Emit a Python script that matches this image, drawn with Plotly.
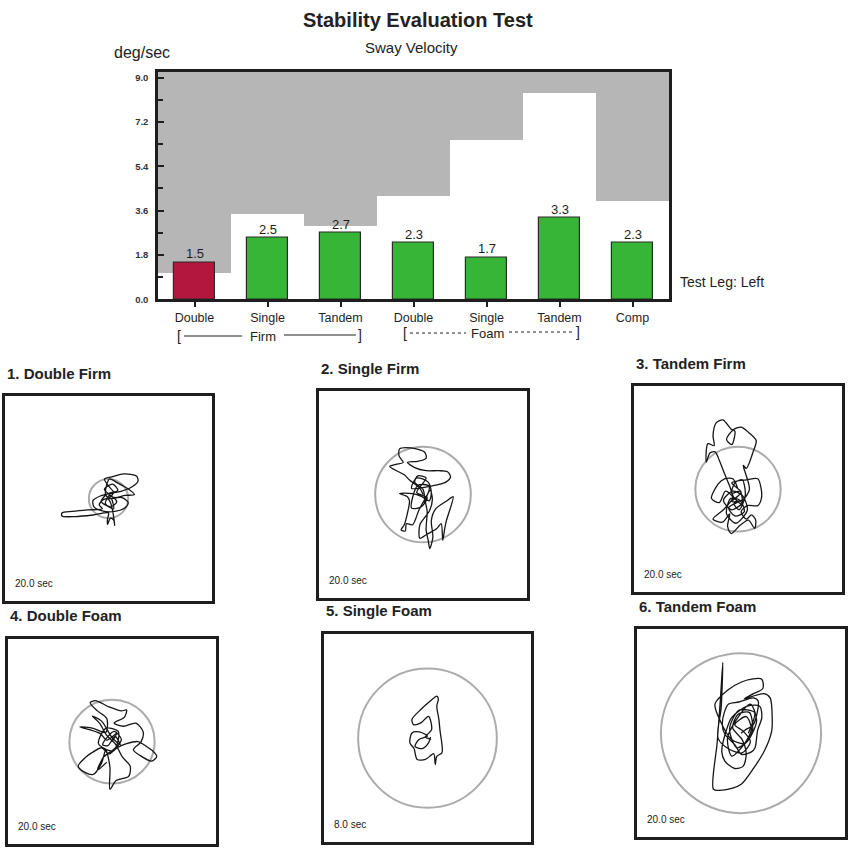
import plotly.graph_objects as go

W, H = 853, 851

# ---- Sway velocity summary -------------------------------------------------
categories = ["Double", "Single", "Tandem", "Double", "Single", "Tandem", "Comp"]
sway_velocity = [1.5, 2.5, 2.7, 2.3, 1.7, 3.3, 2.3]
norm_limit = [1.1, 3.5, 3.0, 4.2, 6.5, 8.4, 4.0]
bar_colors = ["#b3173d", "#36b536", "#36b536", "#36b536", "#36b536", "#36b536", "#36b536"]
y_ticks = [0.0, 1.8, 3.6, 5.4, 7.2, 9.0]
y_top = 9.25

# ---- Stabilogram panels ----------------------------------------------------
panel_titles = ["1. Double Firm", "2. Single Firm", "3. Tandem Firm",
                "4. Double Foam", "5. Single Foam", "6. Tandem Foam"]
panel_durations = ["20.0 sec", "20.0 sec", "20.0 sec", "20.0 sec", "8.0 sec", "20.0 sec"]
limit_radius = [1.9, 4.6, 4.1, 4.1, 6.7, 7.7]

path_double_firm = [
    (0.0, 0.0), (0.5, 0.6), (0.1, 1.1), (-0.4, 1.9), (0.3, 2.1), (1.5, 2.4), (2.7, 2.2),
    (2.85, 1.7), (2.2, 1.1), (1.2, 0.7), (0.2, 0.5), (-0.8, 0.25), (-1.5, -0.2), (-1.4, -0.8),
    (-0.6, -1.2), (0.6, -1.25), (1.6, -0.9), (1.9, -0.4), (1.3, 0.1), (0.3, 0.0), (-0.5, -0.1),
    (-0.9, -0.6), (-0.6, -1.0), (-2.0, -1.1), (-3.5, -1.25), (-4.5, -1.4), (-4.5, -1.7),
    (-3.2, -1.75), (-1.5, -1.6), (0.0, -1.4), (-0.1, -2.0), (-0.1, -2.5), (0.2, -1.9),
    (0.5, -2.1), (0.6, -2.6), (0.5, -1.8), (0.4, -1.2), (0.2, -0.4), (-0.3, 0.5), (0.1, 1.9),
    (0.9, 1.5), (1.8, 1.0), (2.5, 0.4), (1.6, 0.3), (0.6, 0.1), (0.0, 0.3),
    (0.3, 0.2), (-0.4, 0.9), (0.4, 1.4), (0.9, 0.8), (-0.2, 0.4), (-0.7, -0.3), (0.2, -0.8),
    (0.8, -0.3), (0.1, 0.3), (-0.3, -0.5), (0.5, -1.0), (0.3, 0.0),
]
path_single_firm = [
    (0, 0), (-0.3, 0.6), (-1.3, 1.4), (-1.8, 1.9), (-3.2, 2.7), (-2.6, 2.9), (-1.9, 3.1),
    (-2.3, 3.7), (-2.25, 4.4), (-1.2, 4.5), (0.15, 4.1), (0.3, 3.5), (-0.5, 3.2), (-1.5, 3.1),
    (-0.8, 2.6), (0.3, 2.3), (1.5, 2.3), (2.35, 2.2), (2.65, 1.7), (2.2, 1.2), (1.2, 0.9),
    (0.1, 0.7), (-1.1, 0.6), (-0.6, 1.6), (0.5, 1.2), (0.8, 0.2), (0.6, -0.6), (-0.1, -0.2),
    (-1.0, 0.1), (-2.25, 0.1), (-1.5, -0.2), (-1.3, -0.6), (-1.5, -1.8), (-1.8, -2.9),
    (-2.1, -3.4), (-1.7, -3.5), (-1.6, -2.8), (-1.0, -2.9), (-0.4, -1.5), (0.2, -0.4),
    (0.7, 0.4), (0.9, -0.5), (0.6, -1.6), (-0.3, -2.9), (-0.3, -4.2), (0.4, -3.8), (1.3, -3.3),
    (1.75, -2.8), (1.9, -4.4), (2.1, -3.2), (2.25, -2.5), (2.9, -0.2), (2.3, -0.6), (1.2, -1.4),
    (0.8, -2.5), (0.95, -4.1), (0.65, -5.2), (0.5, -4.4), (0.3, -3.4), (0.4, -1.6), (0.2, -0.6),
    (0.0, 0.5), (-0.8, 1.2), (-0.5, 1.8), (0.3, 1.6),
    (-0.6, 0.2), (0.4, -0.3), (-0.2, -1.2), (-1.1, -1.3), (-0.5, 0.9), (0.6, 0.8), (0.1, -0.8),
]
path_tandem_firm = [
    (0, 0), (-0.5, 1.0), (-1.3, 1.0), (-1.9, 0.5), (-2.55, -0.9), (-1.8, -1.3), (-1.2, -0.2),
    (-0.5, -0.8), (-1.4, -2.0), (-2.4, -2.9), (-1.5, -3.2), (-0.8, -2.4), (-1.0, -3.6),
    (-0.65, -4.3), (0.2, -3.5), (1.0, -3.0), (1.6, -3.8), (1.7, -3.0), (1.3, -2.5), (0.8, -2.9),
    (0.3, -2.2), (0.9, -1.6), (1.9, -1.6), (2.25, -0.9), (2.2, 0.2), (1.9, 1.0), (0.8, 0.9),
    (-0.6, 0.6), (0.3, -0.3), (-0.6, -1.2), (0.5, -1.0), (1.1, 0.0), (0.5, 2.3), (0.8, 2.0),
    (1.45, 3.6), (1.75, 4.7), (1.0, 5.5), (0.3, 6.0), (-0.5, 5.7), (-1.1, 4.8), (-0.6, 4.3),
    (-0.3, 5.6), (-0.65, 5.8), (-1.45, 6.7), (-2.1, 6.4), (-2.4, 5.2), (-2.3, 4.2),
    (-2.9, 4.4), (-3.05, 2.6), (-2.7, 3.5), (-2.2, 3.6), (-1.8, 2.8), (-1.3, 1.5), (-0.8, 0.3),
    (-0.4, -0.8), (0.4, -1.5), (0.2, -0.2), (-0.6, -0.4), (-0.3, 0.6), (0.4, 0.9), (0.7, -0.6),
    (0.1, -2.0), (-0.4, -1.4),
    (0.1, -1.2), (-0.9, -1.8), (-0.3, -2.6), (0.6, -2.2), (0.2, -1.1), (-0.7, -0.9),
    (-1.1, -2.4), (-0.2, -3.3), (0.9, -2.0), (0.4, -0.6), (-0.5, -0.2), (-1.4, -1.1),
    (-0.6, -2.0), (0.3, -1.5),
]
path_double_foam = [
    (0, 0), (0.45, 0.8), (-0.5, 0.15), (-1.15, 0.8), (-3.1, 1.45), (-1.8, 1.3), (-0.6, 0.9),
    (-0.5, 2.25), (-1.4, 3.0), (-2.1, 3.8), (-1.6, 4.0), (-0.3, 3.4), (0.9, 3.0), (1.4, 3.1),
    (1.2, 2.4), (0.2, 1.8), (1.1, 1.5), (2.3, 1.8), (3.0, 0.95), (2.8, 0.0), (2.05, -0.8),
    (2.7, -1.35), (3.8, -1.9), (4.3, -1.45), (3.9, -0.9), (3.35, -0.5), (2.5, 0.0), (1.4, -0.2),
    (0.5, -0.6), (-0.3, -1.2), (-1.0, -0.6), (-1.8, -1.0), (-2.45, -1.45), (-3.25, -2.4),
    (-2.6, -3.0), (-1.8, -3.2), (-1.0, -2.1), (-0.6, -0.8), (-0.2, -2.5), (-0.2, -4.65),
    (0.4, -3.8), (1.6, -3.4), (1.75, -2.4), (1.0, -1.5), (0.3, -0.2), (-0.5, 0.6), (-1.2, 1.8),
    (-1.9, 2.5), (-1.0, 2.0), (0.0, 0.4), (0.8, -0.3), (0.3, 0.5), (-0.4, -0.4),
    (-0.9, -0.3), (0.2, 1.0), (0.9, 0.2), (0.0, -0.9), (-1.3, -0.2), (-0.6, 1.3), (0.6, 1.0),
    (0.4, -0.5), (-0.8, -1.5), (-1.4, -2.8), (-0.5, -2.0),
]
path_single_foam = [
    (0, 0), (0.3, -0.1), (-0.2, 0.1), (0.4, 0.85), (0.1, 2.1), (-0.6, 1.5), (-1.35, 1.3),
    (-1.5, 1.8), (-0.6, 2.8), (0.3, 3.6), (0.9, 4.05), (1.05, 3.75), (0.9, 3.1), (1.1, 1.8),
    (1.2, 0.8), (1.4, -1.4), (0.9, -1.75), (0.75, -2.55), (0.6, -1.5), (-0.2, -2.05),
    (-1.0, -2.05), (-1.3, -1.0), (-1.7, -0.45), (-1.5, 0.5), (-0.8, 0.6), (0.0, 0.2),
    (-0.85, -0.15), (-1.2, -0.8), (-0.5, -1.0), (0.1, -0.45), (0.3, 0.1),
]
path_tandem_foam = [
    (0, 0), (0.4, 0.3), (1.2, 0.85), (1.65, 3.1), (1.2, 3.4), (-0.2, 3.0), (-1.2, 2.8),
    (-1.6, 2.0), (-1.8, 0.8), (-1.55, -0.1), (-0.6, -1.1), (0.05, -2.05), (1.0, -1.8),
    (1.35, -1.4), (1.6, 0.3), (2.0, 1.5), (1.8, 2.6), (0.6, 2.6), (-0.9, 1.5), (-1.4, 0.3),
    (-1.85, -1.75), (-1.55, -2.7), (-0.6, -3.4), (0.2, -3.2), (0.5, -2.0), (0.1, -0.6),
    (-0.8, 0.5), (-0.3, 1.8), (0.8, 2.0), (1.1, 0.2), (0.3, -1.0), (-0.9, -0.6), (-2.0, 1.2),
    (-2.5, 2.8), (-1.2, 4.2), (0.0, 4.9), (1.0, 5.2), (2.0, 5.2), (2.1, 4.3), (1.2, 3.8),
    (0.3, 3.3), (2.2, 3.8), (2.8, 3.4), (3.0, 1.5), (2.95, 0.2), (2.3, -1.6), (1.2, -3.4),
    (0.05, -4.9), (-0.8, -5.3), (-2.0, -5.5), (-2.65, -5.4), (-2.3, -1.0), (-2.0, 3.0),
    (-1.75, 6.8), (-1.9, 2.5), (-2.2, -0.5), (-1.2, -1.5), (0.1, -1.9), (0.9, -0.8), (0.2, 0.2),
    (-0.6, 0.8), (0.5, 1.6), (1.0, 0.4), (0.2, -1.2), (-0.9, -2.2), (-1.3, -0.5), (-0.5, 1.2),
    (0.9, 2.8), (1.5, 1.2), (0.6, -0.8), (-0.4, -1.4), (-1.1, 0.4), (-0.2, 2.2), (1.3, 2.0),
    (0.7, 0.0),
]
sway_paths = [path_double_firm, path_single_firm, path_tandem_firm,
              path_double_foam, path_single_foam, path_tandem_foam]

# panel frames in page pixels: left, top, right, bottom
panel_boxes = [(5, 398, 212, 605), (319, 393, 527, 602), (634, 388, 842, 596),
               (8, 643, 216, 849), (324, 638, 531, 847), (637, 633, 845, 842)]

FONT = "Liberation Sans"
INK = "#1e1e1e"


def px_x(px):
    return px / W


def px_y(py):
    return 1 - py / H


fig = go.Figure()
idx = list(range(len(categories)))

# grey zone above the normative limits
fig.add_trace(go.Bar(
    x=idx, y=[y_top - v for v in norm_limit], base=norm_limit, width=1.0,
    marker=dict(color="#b6b6b6", line=dict(width=0)), hoverinfo="skip",
    xaxis="x", yaxis="y", showlegend=False,
))
# measured sway velocity
fig.add_trace(go.Bar(
    x=idx, y=sway_velocity, width=0.575,
    marker=dict(color=bar_colors, line=dict(color="#2a2a2a", width=1.2)),
    xaxis="x", yaxis="y", showlegend=False,
))

layout = dict(
    width=W, height=H, margin=dict(l=0, r=0, t=0, b=0),
    paper_bgcolor="white", plot_bgcolor="white",
    barmode="overlay", bargap=0, showlegend=False,
    font=dict(family=FONT, color=INK),
    xaxis=dict(
        domain=[px_x(158), px_x(669)], range=[-0.5, 6.5], anchor="y",
        tickvals=idx, ticktext=categories, ticks="outside", ticklen=5, tickwidth=1.5,
        tickcolor=INK, tickfont=dict(family=FONT, size=12.5, color=INK),
        showline=True, mirror=True, linewidth=2.5, linecolor=INK, showgrid=False,
        zeroline=False, fixedrange=True,
    ),
    yaxis=dict(
        domain=[px_y(301), px_y(72)], range=[0, y_top], anchor="x",
        tickvals=y_ticks, ticktext=[f"<b>{v:.1f}</b>" for v in y_ticks],
        ticks="inside", ticklen=6, tickwidth=1.5, tickcolor=INK, ticklabelstandoff=5,
        minor=dict(dtick=0.9, tick0=0, ticks="inside", ticklen=5, tickwidth=1.5, tickcolor=INK),
        tickfont=dict(family=FONT, size=9.5, color="#333"),
        showline=True, mirror=True, linewidth=2.5, linecolor=INK, showgrid=False,
        zeroline=False, fixedrange=True,
    ),
)

# value labels sitting on top of each bar
annotations = [
    dict(text=f"{v:.1f}", x=i, y=v, xref="x", yref="y", yanchor="bottom", yshift=-1,
         font=dict(size=13, color=INK))
    for i, v in zip(idx, sway_velocity)
]
annotations += [
    dict(text="<b>Stability Evaluation Test</b>", x=px_x(418), y=px_y(20),
         font=dict(size=20, color="#222")),
    dict(text="Sway Velocity", x=px_x(411), y=px_y(48), font=dict(size=15, color="#222")),
    dict(text="deg/sec", x=px_x(142), y=px_y(53), font=dict(size=16, color="#222")),
    dict(text="Test Leg: Left", x=px_x(678), y=px_y(284), xanchor="left",
         font=dict(size=14, color="#222")),
    dict(text="Firm", x=px_x(263), y=px_y(338), font=dict(size=13, color="#222")),
    dict(text="Foam", x=px_x(487), y=px_y(335), font=dict(size=13, color="#222")),
    dict(text="[", x=px_x(179), y=px_y(338), font=dict(size=14, color="#222")),
    dict(text="]", x=px_x(360), y=px_y(337), font=dict(size=14, color="#222")),
    dict(text="[", x=px_x(405), y=px_y(335), font=dict(size=14, color="#222")),
    dict(text="]", x=px_x(578), y=px_y(334), font=dict(size=14, color="#222")),
]
shapes = [
    dict(type="line", xref="paper", yref="paper", x0=px_x(184), x1=px_x(242),
         y0=px_y(338), y1=px_y(338), line=dict(color="#222", width=1.2)),
    dict(type="line", xref="paper", yref="paper", x0=px_x(284), x1=px_x(356),
         y0=px_y(337), y1=px_y(337), line=dict(color="#222", width=1.2)),
    dict(type="line", xref="paper", yref="paper", x0=px_x(410), x1=px_x(466),
         y0=px_y(335), y1=px_y(335), line=dict(color="#222", width=1, dash="dot")),
    dict(type="line", xref="paper", yref="paper", x0=px_x(509), x1=px_x(574),
         y0=px_y(334), y1=px_y(334), line=dict(color="#222", width=1, dash="dot")),
]

title_offsets = [22, 22, 22, 24, 24, 23]
for i, (title, dur, rad, path, box) in enumerate(
        zip(panel_titles, panel_durations, limit_radius, sway_paths, panel_boxes)):
    n = i + 2
    xa, ya = f"x{n}", f"y{n}"
    left, top, right, bottom = box
    layout[f"xaxis{n}"] = dict(
        domain=[px_x(left), px_x(right)], range=[-10, 10], anchor=ya, showticklabels=False,
        ticks="", showgrid=False, zeroline=False, showline=True, mirror=True,
        linewidth=2.5, linecolor=INK, fixedrange=True,
    )
    layout[f"yaxis{n}"] = dict(
        domain=[px_y(bottom), px_y(top)], range=[-10, 10], anchor=xa, showticklabels=False,
        ticks="", showgrid=False, zeroline=False, showline=True, mirror=True,
        linewidth=2.5, linecolor=INK, fixedrange=True,
    )
    # normative sway limit
    shapes.append(dict(type="circle", xref=xa, yref=ya, x0=-rad, x1=rad, y0=-rad, y1=rad,
                       line=dict(color="#ababab", width=2), layer="below"))
    fig.add_trace(go.Scatter(
        x=[p[0] for p in path], y=[p[1] for p in path], mode="lines",
        line=dict(color="#151515", width=1.3, shape="spline", smoothing=0.8),
        xaxis=xa, yaxis=ya, hoverinfo="skip", showlegend=False,
    ))
    annotations.append(dict(text=f"<b>{title}</b>", x=px_x(left), y=px_y(top - title_offsets[i]),
                            xanchor="left", font=dict(size=15, color="#222")))
    annotations.append(dict(text=dur, xref=f"{xa} domain", yref=f"{ya} domain",
                            x=0.04, y=0.085, xanchor="left", yanchor="middle",
                            font=dict(size=10, color="#222")))

for a in annotations:
    a.setdefault("xref", "paper")
    a.setdefault("yref", "paper")
    a.setdefault("showarrow", False)
    a.setdefault("xanchor", "center")
    a.setdefault("yanchor", "middle")

layout["annotations"] = annotations
layout["shapes"] = shapes
fig.update_layout(**layout)

fig.write_html("out.html")
